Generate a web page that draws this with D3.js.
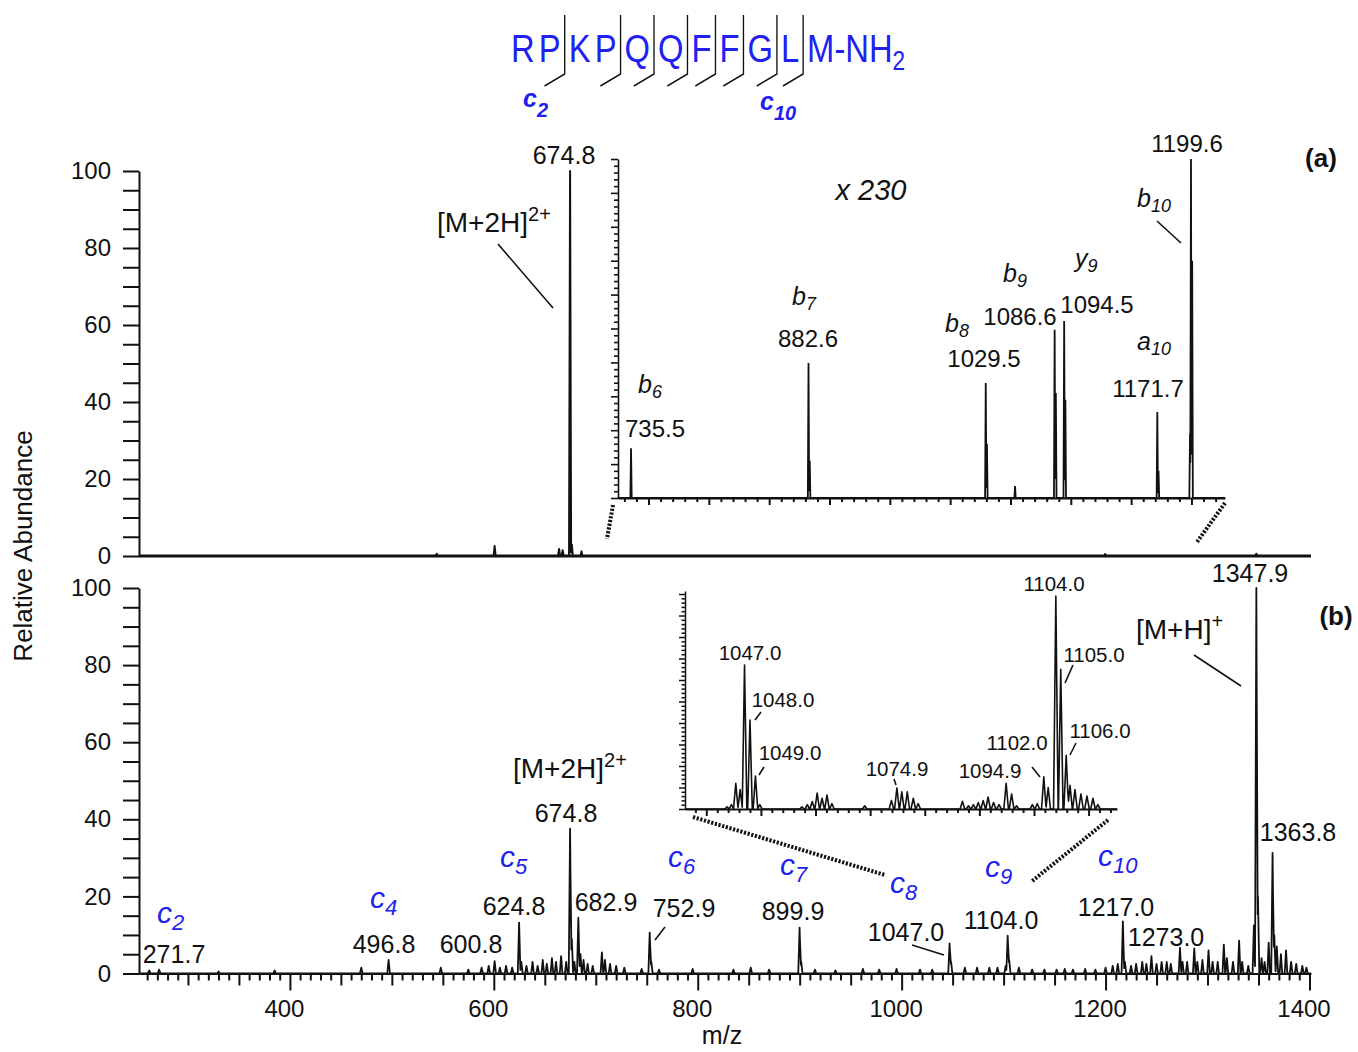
<!DOCTYPE html>
<html>
<head>
<meta charset="utf-8">
<title>Substance P spectra</title>
<script src="https://cdn.jsdelivr.net/npm/d3@7"></script>
<style>
  body { margin: 0; background: #fff; }
  text { font-family: Arial, "Liberation Sans", sans-serif; }
</style>
</head>
<body>
<svg id="chart" width="1358" height="1052"></svg>
<script>
// ---- values ----
var residues = ['R', 'P', 'K', 'P', 'Q', 'Q', 'F', 'F', 'G', 'L', 'M-NH'];
var cleavageSites = [2, 4, 5, 6, 7, 8, 9, 10];

var abundanceTicks = [0, 20, 40, 60, 80, 100];
var mzTicks = [400, 600, 800, 1000, 1200, 1400];

// (a) whole spectrum: [m/z, relative abundance]
var peaksA = [[544, 0.6], [600.8, 2.6], [664, 1.8], [667.5, 1.5], [674.8, 100], [676.5, 3],
  [686, 1.2], [1199.6, 0.5], [1347.9, 0.6]];

// (a) inset, magnified x 230
var peaksAZoom = [[735.5, 14.7], [882.6, 39.8], [883.6, 11], [1029.5, 33.9], [1030.5, 16],
  [1053.8, 3.5], [1086.6, 49.6], [1087.6, 31], [1094.5, 52.2], [1095.5, 29],
  [1171.7, 25.4], [1172.7, 8], [1198.8, 19], [1199.6, 100], [1200.6, 70]];

// (b) whole spectrum
var peaksB = [[262, 0.8], [271.7, 1.0], [330, 0.5], [385, 0.8], [470, 1.5], [496.8, 3.5],
  [548, 1.5], [575, 1.0], [588, 1.5], [595, 2.0], [600.8, 3.2], [606, 1.5], [612, 2.0],
  [618, 1.5], [624.8, 13.2], [627, 3], [632, 2.0], [638, 3.0], [643, 2.0], [648, 3.5],
  [652, 2.5], [657, 4.0], [661, 3.0], [666, 4.5], [671, 3.0], [674.8, 37.6], [676.5, 9],
  [679, 3], [682.9, 14.5], [685, 5], [688, 3.5], [692, 2.5], [697, 2], [706, 5.5],
  [709, 3.5], [714, 2.5], [720, 2], [728, 1.5], [745, 1.2], [752.9, 10.6], [754.5, 3],
  [762, 1], [795, 1.2], [835, 1.0], [852, 1.5], [870, 1.0], [899.9, 11.9], [901.5, 3],
  [915, 1.0], [935, 0.8], [962, 1.2], [978, 1.0], [995, 1.2], [1018, 1.0], [1030, 1.0],
  [1047.0, 7.8], [1048.5, 3], [1062, 1.5], [1074, 1.5], [1086, 1.5], [1094, 1.5],
  [1102, 2], [1104.0, 9.8], [1105.5, 3.5], [1115, 1.5], [1128, 1.0], [1140, 1],
  [1152, 1.0], [1160, 1.2], [1168, 1.0], [1180, 1.2], [1190, 1], [1200, 1.5], [1207, 2],
  [1212, 2.5], [1217.0, 13.5], [1219, 3], [1225, 2], [1230, 2.5], [1236, 3], [1240, 2.5],
  [1245, 4.5], [1250, 2.5], [1255, 3], [1260, 3], [1264, 2.5], [1273.0, 6.7], [1275.5, 3],
  [1280, 3], [1287, 6.5], [1290, 3], [1295, 3.5], [1301, 6], [1305, 3], [1310, 3],
  [1316, 7.5], [1319, 4], [1325, 3], [1331, 8.5], [1334, 3], [1340, 2], [1345.5, 12.5],
  [1347.9, 100], [1349.5, 20], [1353, 4], [1356, 3], [1360, 8], [1363.8, 31.3],
  [1365.5, 10], [1368, 7], [1372, 5], [1377, 6], [1382, 3], [1387, 2.5], [1393, 2],
  [1397, 1.5]];

// (b) inset around c8 / c9
var peaksBZoom = [[1043.8, 1], [1044.6, 2], [1045.4, 12], [1046.2, 9], [1047.0, 67],
  [1048.0, 41.4], [1049.0, 15.3], [1049.8, 2], [1057.5, 1], [1058.5, 2], [1059.4, 3.5],
  [1060.3, 7.4], [1061.2, 5], [1062.1, 6.5], [1063, 2.5], [1069, 1.5], [1073.9, 4],
  [1074.9, 9.8], [1075.8, 8], [1076.8, 8], [1077.9, 5], [1078.8, 2.5], [1086.9, 3.6],
  [1088, 1.5], [1088.9, 2], [1089.8, 3], [1090.7, 3.9], [1091.6, 5.6], [1092.6, 3],
  [1093.6, 2], [1094.9, 12], [1095.9, 7], [1096.8, 1.5], [1099.7, 2], [1100.6, 2.5],
  [1101.8, 15], [1102.6, 10], [1104.0, 99], [1104.9, 65], [1105.9, 25], [1106.6, 11],
  [1107.5, 9], [1108.6, 7], [1109.7, 6], [1110.8, 5], [1111.7, 2]];

// annotations: text, then where it sits on the page
var mzLabelsA = ['674.8'];
var mzLabelsAZoom = ['735.5', '882.6', '1029.5', '1086.6', '1094.5', '1171.7', '1199.6'];
var ionsAZoom = [['b', '6'], ['b', '7'], ['b', '8'], ['b', '9'], ['y', '9'], ['a', '10'], ['b', '10']];
var mzLabelsB = ['271.7', '496.8', '600.8', '624.8', '674.8', '682.9', '752.9', '899.9',
  '1047.0', '1104.0', '1217.0', '1273.0', '1347.9', '1363.8'];
var ionsB = [['c', '2'], ['c', '4'], ['c', '5'], ['c', '6'], ['c', '7'], ['c', '8'], ['c', '9'], ['c', '10']];
var mzLabelsBZoom = ['1047.0', '1048.0', '1049.0', '1074.9', '1094.9', '1102.0', '1104.0', '1105.0', '1106.0'];

var layout = {
  mzA: [[564, 164]],
  mzAZoom: [[655, 437], [808, 347], [984, 367], [1020, 325], [1097, 313], [1148, 397], [1187, 152]],
  ionsAZoom: [[638, 393], [792, 305], [945, 332], [1003, 282], [1075, 267], [1137, 350], [1137, 207]],
  mzB: [[174, 963], [384, 953], [471, 953], [514, 915], [566, 822], [606, 911], [684, 917],
    [793, 920], [906, 941], [1001, 929], [1116, 916], [1166, 946], [1250, 582], [1298, 841]],
  ionsB: [[157, 923], [370, 908], [500, 867], [668, 867], [780, 875], [890, 893], [985, 877], [1098, 866]],
  mzBZoom: [[750, 660], [783, 707], [790, 760], [897, 776], [990, 778], [1017, 750], [1054, 591],
    [1094, 662], [1100, 738]],
  leaders: [[498, 244, 553, 308], [1157, 221, 1181, 243], [655, 940, 665, 927],
    [912, 945, 944, 955], [1194, 655, 1241, 686], [755, 720, 761, 712], [759, 775, 764, 767],
    [894, 779, 896, 785], [1032, 767, 1040, 777], [1073, 665, 1065, 683], [1076, 743, 1070, 755]],
  dotted: [[613, 505, 607, 539], [1225, 503, 1197, 542], [693, 817, 885, 875], [1108, 820, 1031, 882]]
};

// ---- drawing ----
var svg = d3.select('#chart');
var ink = '#111', blue = '#2020f0';

// both full spectra share one m/z axis
var x = d3.scaleLinear().domain([252, 1401.5]).range([139, 1311]);
var yA = d3.scaleLinear().domain([0, 100]).range([556, 171]);
var yB = d3.scaleLinear().domain([0, 100]).range([973.5, 588]);
var xAz = d3.scaleLinear().domain([724.7, 1227.8]).range([618, 1225]);
var yAz = d3.scaleLinear().domain([0, 100]).range([498, 159]);
var xBz = d3.scaleLinear().domain([1036.1, 1115.2]).range([685, 1117]);
var yBz = d3.scaleLinear().domain([0, 101.4]).range([809, 591]);

// peak profile: upper envelope of narrow triangles
function spectrumPath(peaks, xs_, y, hw) {
  var xs = xs_.domain().slice();
  peaks.forEach(function (p) { xs.push(p[0] - hw, p[0], p[0] + hw); });
  xs = xs.filter(function (m) { return m >= xs_.domain()[0] && m <= xs_.domain()[1]; }).sort(d3.ascending);
  var pts = xs.map(function (m) {
    var h = d3.max(peaks, function (p) { return p[1] * Math.max(0, 1 - Math.abs(m - p[0]) / hw); });
    return [m, h];
  });
  return d3.line().x(function (d) { return xs_(d[0]); }).y(function (d) { return y(d[1]); })(pts);
}

function styleAxis(g, sw, fs) {
  g.attr('font-family', null).attr('font-size', null);
  g.select('.domain').attr('stroke', ink).attr('stroke-width', sw);
  g.selectAll('.tick line').attr('stroke', ink).attr('stroke-width', sw);
  g.selectAll('.tick text').attr('fill', ink).attr('font-size', fs);
}

function abundanceAxis(y) {
  var g = svg.append('g').attr('transform', 'translate(139,0)')
    .call(d3.axisLeft(y).tickValues(d3.range(0, 101, 5)).tickSize(16).tickSizeOuter(0).tickPadding(12)
      .tickFormat(function (d) { return abundanceTicks.indexOf(d) >= 0 ? d : ''; }));
  styleAxis(g, 2, 24);
}

// panel (a)
abundanceAxis(yA);
svg.append('line').attr('x1', x.range()[0]).attr('x2', x.range()[1])
  .attr('y1', yA(0)).attr('y2', yA(0)).attr('stroke', ink).attr('stroke-width', 3);
svg.append('path').attr('d', spectrumPath(peaksA, x, yA, 1.0))
  .attr('fill', 'none').attr('stroke', ink).attr('stroke-width', 2).attr('stroke-linejoin', 'round');

// panel (a) inset
var gAzY = svg.append('g').attr('transform', 'translate(618,0)')
  .call(d3.axisLeft(yAz).tickValues(d3.range(0, 101, 2)).tickSize(4).tickSizeOuter(0).tickFormat(''));
gAzY.selectAll('.tick line').attr('x2', function (d) { return d % 10 === 0 ? -7 : -4; });
styleAxis(gAzY, 1.6, 10);
var gAzX = svg.append('g').attr('transform', 'translate(0,498)')
  .call(d3.axisBottom(xAz).tickValues(d3.range(730, 1226, 10)).tickSize(4).tickSizeOuter(0).tickFormat(''));
gAzX.selectAll('.tick line').attr('y2', function (d) { return d % 50 === 0 ? 7 : 4; });
styleAxis(gAzX, 2, 10);
svg.append('path').attr('d', spectrumPath(peaksAZoom, xAz, yAz, 0.55))
  .attr('fill', 'none').attr('stroke', ink).attr('stroke-width', 1.8);

// panel (b)
abundanceAxis(yB);
var gBX = svg.append('g').attr('transform', 'translate(0,' + yB(0) + ')')
  .call(d3.axisBottom(x).tickValues(d3.range(260, 1401, 10)).tickSize(7).tickSizeOuter(0)
    .tickFormat(function (d) { return mzTicks.indexOf(d) >= 0 ? d : ''; }));
gBX.selectAll('.tick line').attr('y2', function (d) { return d % 200 === 0 ? 17 : (d % 50 === 0 ? 12 : 7); });
styleAxis(gBX, 2, 24);
gBX.selectAll('.tick text').attr('y', 26.5).attr('dx', -6);
svg.append('path').attr('d', spectrumPath(peaksB, x, yB, 1.3))
  .attr('fill', 'none').attr('stroke', ink).attr('stroke-width', 1.8).attr('stroke-linejoin', 'round');

// panel (b) inset
var gBzY = svg.append('g').attr('transform', 'translate(685,0)')
  .call(d3.axisLeft(yBz).tickValues(d3.range(0, 101, 2)).tickSize(4).tickSizeOuter(0).tickFormat(''));
gBzY.selectAll('.tick line').attr('x2', function (d) { return d % 10 === 0 ? -6 : -3.5; });
styleAxis(gBzY, 1.5, 10);
var gBzX = svg.append('g').attr('transform', 'translate(0,809)')
  .call(d3.axisBottom(xBz).tickValues(d3.range(1038, 1115, 2)).tickSize(4).tickSizeOuter(0).tickFormat(''));
gBzX.selectAll('.tick line').attr('y2', function (d) { return d % 10 === 0 ? 7 : 4; });
styleAxis(gBzX, 2, 10);
svg.append('path').attr('d', spectrumPath(peaksBZoom, xBz, yBz, 0.42))
  .attr('fill', 'none').attr('stroke', ink).attr('stroke-width', 1.6).attr('stroke-linejoin', 'round');

// ---- text ----
function txt(tx, ty, s, size, opts) {
  opts = opts || {};
  return svg.append('text').attr('x', tx).attr('y', ty).attr('font-size', size)
    .attr('text-anchor', opts.anchor || 'middle').attr('fill', opts.fill || ink)
    .attr('font-style', opts.italic ? 'italic' : null).attr('font-weight', opts.bold ? 'bold' : null)
    .text(s);
}
function ion(tx, ty, letter, n, size, subSize, dy, color, bold) {
  var t = txt(tx, ty, null, size, { anchor: 'start', italic: true, fill: color, bold: bold });
  t.append('tspan').text(letter);
  t.append('tspan').attr('font-size', subSize).attr('dy', dy).text(n);
}
function charge(tx, ty, base, sup) {
  var t = txt(tx, ty, null, 28, { anchor: 'start' });
  t.append('tspan').text(base);
  t.append('tspan').attr('font-size', 20).attr('dy', -11).text(sup);
}

mzLabelsA.forEach(function (s, i) { txt(layout.mzA[i][0], layout.mzA[i][1], s, 25); });
mzLabelsAZoom.forEach(function (s, i) { txt(layout.mzAZoom[i][0], layout.mzAZoom[i][1], s, 24); });
ionsAZoom.forEach(function (d, i) { ion(layout.ionsAZoom[i][0], layout.ionsAZoom[i][1], d[0], d[1], 25, 18, 5, ink); });
mzLabelsB.forEach(function (s, i) { txt(layout.mzB[i][0], layout.mzB[i][1], s, 25); });
ionsB.forEach(function (d, i) { ion(layout.ionsB[i][0], layout.ionsB[i][1], d[0], d[1], 30, 22, 7, blue); });
mzLabelsBZoom.forEach(function (s, i) { txt(layout.mzBZoom[i][0], layout.mzBZoom[i][1], s, 20.5); });

charge(437, 232, '[M+2H]', '2+');
charge(513, 778, '[M+2H]', '2+');
charge(1136, 639, '[M+H]', '+');
txt(871, 200, 'x 230', 29, { italic: true });
txt(1321, 167, '(a)', 26, { bold: true });
txt(1336, 625, '(b)', 26, { bold: true });

layout.leaders.forEach(function (l) {
  svg.append('line').attr('x1', l[0]).attr('y1', l[1]).attr('x2', l[2]).attr('y2', l[3])
    .attr('stroke', ink).attr('stroke-width', 1.6);
});
layout.dotted.forEach(function (l) {
  svg.append('line').attr('x1', l[0]).attr('y1', l[1]).attr('x2', l[2]).attr('y2', l[3])
    .attr('stroke', ink).attr('stroke-width', 4).attr('stroke-dasharray', '2.2 1.6');
});

svg.append('text').attr('transform', 'translate(32,546) rotate(-90)').attr('text-anchor', 'middle')
  .attr('font-size', 26).attr('fill', ink).text('Relative Abundance');
txt(722, 1044, 'm/z', 25);

// ---- peptide sequence with c-ion cleavage marks ----
var seq = svg.append('g').attr('transform', 'translate(511,0) scale(0.84,1)');
var cursor = 0;
residues.forEach(function (r, i) {
  var t = seq.append('text').attr('x', cursor).attr('y', 62).attr('font-size', 39).attr('fill', blue).text(r);
  if (i === residues.length - 1) t.append('tspan').attr('font-size', 27).attr('dy', 8).text('2');
  cursor += t.node().getComputedTextLength();
  if (i === residues.length - 1) return;
  var cut = cleavageSites.indexOf(i + 1) >= 0;
  var gap = cut ? 9.5 : 5;
  if (cut) {
    var mx = cursor + gap / 2;
    seq.append('path').attr('d', 'M' + mx + ',15V74L' + (mx - 24) + ',86')
      .attr('fill', 'none').attr('stroke', ink).attr('stroke-width', 1.6);
  }
  cursor += gap;
});
ion(523, 107, 'c', '2', 25, 20, 10, blue, true);
ion(760, 110, 'c', '10', 25, 20, 10, blue, true);
</script>
</body>
</html>
